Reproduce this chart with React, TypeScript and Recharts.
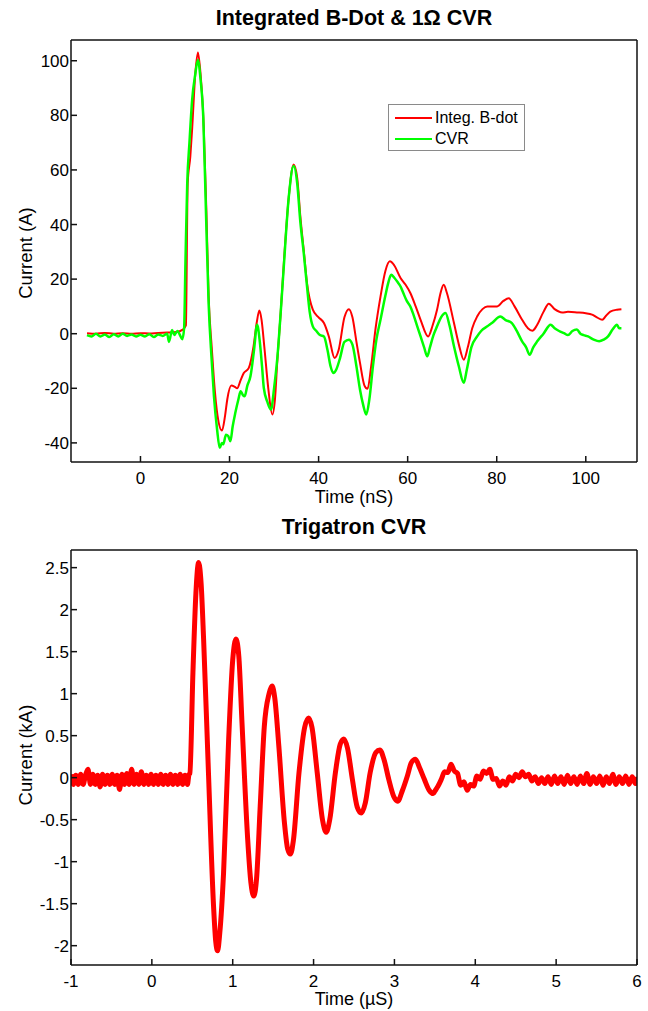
import { Legend, Line, LineChart, XAxis, YAxis } from "recharts";

const FONT = '"Liberation Sans", Arial, Helvetica, sans-serif';
const RED = "#ff0000";
const GREEN = "#00ff00";
const AXIS = "#111111";

// Integrated B-dot probe, [time ns, current A]
const BDOT: [number, number][] = [
  [-12, 0.2], [-10, 0], [-8, 0.3], [-6, 0], [-4, 0.2], [-2, 0], [0, 0.2], [2, 0.1],
  [4, 0.3], [6, 0.4], [8, 0.6], [9.5, 1.5], [10.2, 3], [10.6, 55], [11.2, 65], [11.6, 75],
  [12.3, 95], [12.9, 103], [13.5, 95], [14.2, 76], [14.8, 45], [15.3, 14], [16, -5],
  [16.5, -17], [17.3, -30], [18.3, -35.5], [19, -30], [19.5, -24], [20.4, -19], [21.2, -19.5],
  [21.7, -20], [22.5, -17], [23.2, -14.4], [24.3, -12.6], [25.4, -4.6], [26.1, 4], [26.7, 8.5],
  [27.2, 5], [27.8, -4.6], [28.7, -20], [29.6, -29.6], [30.2, -24], [30.7, -10.7], [31.5, 8],
  [32.2, 26], [33.3, 50], [34.4, 62], [35.2, 57], [35.9, 43], [36.7, 30], [37.4, 18.5],
  [38.7, 8.8], [40, 6], [41.2, 3.9], [42.3, -1], [43.6, -8.9], [44.5, -6], [45.8, 6],
  [46.8, 9], [47.6, 6], [48.5, -3], [49.3, -10.7], [50.3, -19], [51, -20.2], [51.8, -12],
  [52.8, 2], [53.9, 13.6], [55, 23], [56, 26.5], [57, 25], [58.4, 20.4], [59.5, 18],
  [60.6, 14.9], [61.8, 10], [62.9, 5.1], [64.6, -1], [65.6, 3], [66.6, 8.8], [67.4, 15],
  [68.1, 17.9], [68.8, 15], [70.4, 3.9], [71.5, -4], [72.6, -9.5], [73.5, -5], [74.5, 2],
  [75.6, 6.3], [76.8, 9], [77.9, 10], [80.1, 10], [81.5, 12], [82.7, 13], [84, 10],
  [85.7, 5.1], [87, 2], [88, 1.1], [89, 3], [90.5, 8], [91.7, 11], [93, 9], [94.7, 7.8],
  [96, 8], [98, 7.8], [100, 7.5], [101.4, 7], [102.5, 6], [103.7, 5.1], [104.5, 6.5],
  [105.5, 8.1], [107, 8.8], [108, 9],
];

// 1 ohm current viewing resistor, [time ns, current A]
const CVR: [number, number][] = [
  [-12, -0.5], [-11, -1], [-10, 0], [-9, -1], [-8, -0.3], [-7, -1.2], [-6, -0.2], [-5, -1],
  [-4, 0], [-3, -0.8], [-2, -0.3], [-1, -1], [0, -0.4], [1, -1], [2, -0.2], [3, -1.2],
  [4, -0.3], [5, -0.8], [6, 0], [6.4, -3], [7.1, 1.4], [7.6, -0.5], [8.3, 1], [9, -1],
  [9.4, -2], [9.8, 2], [10.1, 26], [10.5, 55], [11, 70], [11.6, 85.6], [12.3, 95],
  [12.9, 100.3], [13.5, 93], [14.1, 79.5], [14.7, 45], [15.3, 11.3], [16, -10], [16.5, -22.9],
  [17.2, -35], [17.8, -41.8], [18.3, -40], [18.6, -40.5], [19.2, -37], [19.7, -37.5],
  [20.2, -39.4], [20.7, -34], [21.3, -29], [22, -24], [22.5, -21.1], [23, -22.5], [23.4, -22.9],
  [24, -19], [24.7, -15.6], [25.5, -6], [26.2, 3.3], [26.8, -3], [27.3, -12], [27.7, -19.9],
  [28.5, -25], [29.3, -27.8], [30, -20], [30.7, -9.5], [31.5, 8], [32.2, 25], [33.3, 50],
  [34.4, 61.4], [35.2, 55], [35.9, 41], [36.7, 29], [37.4, 17.3], [38, 8], [38.7, 2.7],
  [39.5, 1], [40.3, -0.5], [41.2, -1], [42, -6], [42.7, -12], [43.3, -14.4], [44, -13],
  [44.8, -9], [45.8, -3], [46.8, -2.2], [47.6, -4], [48.5, -12], [49.3, -20.5], [50, -26],
  [50.7, -29.6], [51.4, -24], [52.2, -12], [53, -2], [53.9, 5.1], [55, 14], [55.7, 19],
  [56.3, 21.6], [57, 20.5], [57.7, 19], [58.4, 17.3], [59, 15], [59.8, 12], [60.6, 10],
  [61.3, 7], [62.1, 3], [62.9, -1], [63.7, -5], [64.4, -8.3], [65, -5], [65.8, -0.5],
  [66.6, 2.7], [67.5, 6], [68.5, 7.6], [69.4, 3], [70.4, -4.6], [71.5, -12], [72.6, -18],
  [73.3, -13], [74.3, -5], [75.6, -1], [76.5, 1], [77.9, 2.7], [79, 4], [80.8, 6.3], [82, 5],
  [83.4, 3.9], [84.5, 1], [85.7, -2.8], [86.6, -5], [87.4, -7.7], [88.2, -5], [89.1, -2.8],
  [90.5, 0], [92.1, 3.3], [93, 2], [94, 1], [95.1, 0.2], [96, -0.5], [97, 1], [98, 1.5],
  [98.8, 0], [99.5, -0.5], [100.5, -1], [101.8, -2.2], [103, -2.8], [104, -2.2], [105, -1],
  [106, 1.5], [107, 3.3], [107.5, 2], [108, 2],
];

// Trigatron CVR, [time us, current kA]
const TRIG: [number, number][] = [
  [-1, 0.04], [-0.97, -0.08], [-0.94, 0.03], [-0.91, -0.08], [-0.88, 0.04], [-0.85, -0.08],
  [-0.82, 0.03], [-0.79, 0.1], [-0.76, -0.08], [-0.73, 0.04], [-0.7, -0.08], [-0.67, 0.03],
  [-0.64, -0.11], [-0.61, 0.04], [-0.58, -0.08], [-0.55, 0.03], [-0.52, -0.08], [-0.49, 0.04],
  [-0.46, -0.08], [-0.43, 0.03], [-0.4, -0.14], [-0.37, 0.04], [-0.34, -0.08], [-0.31, 0.05],
  [-0.28, -0.08], [-0.25, 0.1], [-0.22, -0.08], [-0.19, 0.04], [-0.16, -0.08], [-0.13, 0.07],
  [-0.1, -0.08], [-0.07, 0.03], [-0.04, -0.08], [-0.01, 0.04], [0.02, -0.08], [0.05, 0.03],
  [0.08, -0.08], [0.11, 0.04], [0.14, -0.08], [0.17, 0.03], [0.2, -0.08], [0.23, 0.04],
  [0.26, -0.08], [0.29, 0.03], [0.32, -0.08], [0.35, 0.04], [0.38, -0.08], [0.41, 0.03],
  [0.44, -0.08], [0.46, 0.04], [0.47, 0.05], [0.508, 1.25], [0.545, 2.2], [0.578, 2.56],
  [0.61, 2.3], [0.64, 1.65], [0.7, 0.06], [0.763, -1.53], [0.79, -1.95], [0.813, -2.06],
  [0.84, -1.85], [0.887, -1.13], [0.95, 0.46], [1.0, 1.4], [1.04, 1.65], [1.075, 1.45],
  [1.115, 0.65], [1.185, -0.73], [1.225, -1.25], [1.26, -1.41], [1.295, -1.2], [1.34, -0.34],
  [1.39, 0.6], [1.45, 1.0], [1.487, 1.09], [1.52, 0.95], [1.57, 0.38], [1.64, -0.54],
  [1.68, -0.85], [1.714, -0.91], [1.75, -0.75], [1.82, 0.06], [1.89, 0.6], [1.94, 0.71],
  [1.98, 0.6], [2.045, 0.06], [2.11, -0.5], [2.156, -0.65], [2.2, -0.5], [2.27, 0.06],
  [2.33, 0.4], [2.375, 0.46], [2.42, 0.35], [2.48, -0.02], [2.54, -0.35], [2.59, -0.42],
  [2.64, -0.3], [2.7, 0.06], [2.77, 0.3], [2.82, 0.33], [2.87, 0.22], [2.93, -0.02],
  [2.99, -0.22], [3.04, -0.28], [3.1, -0.15], [3.16, 0.02], [3.21, 0.18], [3.26, 0.22],
  [3.31, 0.12], [3.37, -0.02], [3.43, -0.15], [3.48, -0.19], [3.5, -0.16], [3.54, -0.1],
  [3.58, -0.02], [3.62, 0.07], [3.66, 0.06], [3.7, 0.16], [3.74, 0.08], [3.78, 0.05],
  [3.82, -0.09], [3.86, -0.05], [3.9, -0.15], [3.94, -0.08], [3.98, -0.1], [4.02, 0.02],
  [4.06, -0.02], [4.1, 0.08], [4.14, 0.05], [4.18, 0.1], [4.22, -0.02], [4.26, -0.01],
  [4.3, -0.1], [4.34, -0.04], [4.38, -0.09], [4.42, 0.01], [4.46, -0.04], [4.5, 0.04],
  [4.54, 0], [4.58, 0.07], [4.62, 0.01], [4.66, 0.04], [4.7, -0.04], [4.74, 0.01],
  [4.78, -0.07], [4.82, 0], [4.86, -0.07], [4.9, 0.01], [4.94, -0.08], [4.98, 0.02],
  [5.02, -0.07], [5.06, 0.01], [5.1, -0.08], [5.14, 0.03], [5.18, -0.07], [5.22, 0.01],
  [5.26, -0.08], [5.3, 0.02], [5.34, -0.07], [5.38, 0.05], [5.42, -0.08], [5.46, 0.01],
  [5.5, -0.07], [5.54, 0.02], [5.58, -0.09], [5.62, 0.01], [5.66, -0.07], [5.7, 0.04],
  [5.74, -0.08], [5.78, 0.01], [5.82, -0.07], [5.86, 0.02], [5.9, -0.08], [5.94, 0.01],
  [5.98, -0.07], [6, 0.01],
];

const TOP_X_TICKS = [0, 20, 40, 60, 80, 100];
const TOP_Y_TICKS = [-40, -20, 0, 20, 40, 60, 80, 100];
const BOT_X_TICKS = [-1, 0, 1, 2, 3, 4, 5, 6];
const BOT_Y_TICKS = [-2, -1.5, -1, -0.5, 0, 0.5, 1, 1.5, 2, 2.5];
const LEGEND_ORDER = ["Integ. B-dot", "CVR"];

const toRows = (pts: [number, number][]) => pts.map(([t, v]) => ({ t, v }));

const tickFont = { fontSize: 17, fill: "#000", fontFamily: FONT };
const axisLine = { stroke: AXIS, strokeWidth: 1.5 };
const tickLine = { stroke: AXIS, strokeWidth: 1.5 };

function LegendBox(props: any) {
  const items = [...(props.payload ?? [])]
    .filter((it: any) => LEGEND_ORDER.includes(it.value))
    .sort((a: any, b: any) => LEGEND_ORDER.indexOf(a.value) - LEGEND_ORDER.indexOf(b.value));
  return (
    <div
      style={{
        width: 137,
        height: 47,
        border: "1px solid #8a8a8a",
        background: "#fff",
        fontFamily: FONT,
        fontSize: 16,
        boxSizing: "border-box",
        paddingTop: 2,
      }}
    >
      {items.map((it: any) => (
        <div key={it.value} style={{ display: "flex", alignItems: "center", height: 21 }}>
          <span style={{ width: 37, height: 2, background: it.color, marginLeft: 6, marginRight: 3 }} />
          <span style={{ lineHeight: "21px" }}>{it.value}</span>
        </div>
      ))}
    </div>
  );
}

function yLabel(text: string, x: number, y: number) {
  return () => (
    <text
      x={x}
      y={y}
      transform={`rotate(-90 ${x} ${y})`}
      textAnchor="middle"
      dominantBaseline="central"
      fontFamily={FONT}
      fontSize={18.5}
      fill="#000"
    >
      {text}
    </text>
  );
}

function xLabel(text: string, x: number, y: number) {
  return () => (
    <text x={x} y={y} textAnchor="middle" dominantBaseline="central" fontFamily={FONT} fontSize={18} fill="#000">
      {text}
    </text>
  );
}

function Title({ text, top }: { text: string; top: number }) {
  return (
    <div
      style={{
        position: "absolute",
        left: 71,
        width: 566,
        top,
        height: 24,
        lineHeight: "24px",
        textAlign: "center",
        fontFamily: FONT,
        fontWeight: "bold",
        fontSize: 21.5,
        color: "#000",
      }}
    >
      {text}
    </div>
  );
}

export default function App() {
  const bdot = toRows(BDOT);
  const cvr = toRows(CVR);
  const trig = toRows(TRIG);

  return (
    <div style={{ position: "absolute", left: 0, top: 0, width: 648, height: 1011, background: "#fff" }}>
      <Title text="Integrated B-Dot & 1Ω CVR" top={6} />
      <div style={{ position: "absolute", left: 0, top: 0 }}>
        <LineChart width={648} height={512} margin={{ top: 39, right: 10, bottom: 10, left: 21 }}>
          <XAxis
            dataKey="t"
            type="number"
            domain={[-15.6, 111.5]}
            ticks={TOP_X_TICKS}
            allowDataOverflow
            height={40}
            tick={tickFont}
            tickSize={-6}
            tickMargin={16}
            axisLine={axisLine}
            tickLine={tickLine}
            label={{ content: xLabel("Time (nS)", 354, 497) }}
          />
          <XAxis
            xAxisId="top"
            dataKey="t"
            orientation="top"
            type="number"
            domain={[-15.6, 111.5]}
            ticks={TOP_X_TICKS}
            allowDataOverflow
            height={1}
            tick={false}
            tickSize={-6}
            axisLine={axisLine}
            tickLine={tickLine}
          />
          <YAxis
            type="number"
            domain={[-47, 107.6]}
            ticks={TOP_Y_TICKS}
            allowDataOverflow
            width={50}
            tick={tickFont}
            tickSize={-6}
            tickMargin={8}
            axisLine={axisLine}
            tickLine={tickLine}
            label={{ content: yLabel("Current (A)", 25, 253) }}
          />
          <YAxis
            yAxisId="right"
            orientation="right"
            type="number"
            domain={[-47, 107.6]}
            ticks={TOP_Y_TICKS}
            allowDataOverflow
            width={1}
            tick={false}
            tickSize={-6}
            axisLine={axisLine}
            tickLine={tickLine}
          />
          {/* invisible series so the top/right frame axes get drawn */}
          <Line
            data={bdot}
            xAxisId="top"
            yAxisId="right"
            dataKey="v"
            name="frame"
            stroke="none"
            legendType="none"
            dot={false}
            activeDot={false}
            isAnimationActive={false}
          />
          <Line
            data={bdot}
            dataKey="v"
            name="Integ. B-dot"
            stroke={RED}
            strokeWidth={2}
            dot={false}
            type="monotone"
            isAnimationActive={false}
          />
          <Line
            data={cvr}
            dataKey="v"
            name="CVR"
            stroke={GREEN}
            strokeWidth={2.5}
            dot={false}
            type="monotone"
            isAnimationActive={false}
          />
          <Legend
            layout="vertical"
            align="center"
            verticalAlign="middle"
            content={LegendBox}
            wrapperStyle={{ left: 388, top: 104, width: 137, height: 47 }}
          />
        </LineChart>
      </div>

      <Title text="Trigatron CVR" top={515} />
      <div style={{ position: "absolute", left: 0, top: 505 }}>
        <LineChart width={648} height={506} margin={{ top: 44, right: 10, bottom: 6, left: 21 }}>
          <XAxis
            dataKey="t"
            type="number"
            domain={[-1, 6]}
            ticks={BOT_X_TICKS}
            allowDataOverflow
            height={40}
            tick={tickFont}
            tickSize={-6}
            tickMargin={16}
            axisLine={axisLine}
            tickLine={tickLine}
            label={{ content: xLabel("Time (µS)", 354, 494) }}
          />
          <XAxis
            xAxisId="top"
            dataKey="t"
            orientation="top"
            type="number"
            domain={[-1, 6]}
            ticks={BOT_X_TICKS}
            allowDataOverflow
            height={1}
            tick={false}
            tickSize={-6}
            axisLine={axisLine}
            tickLine={tickLine}
          />
          <YAxis
            type="number"
            domain={[-2.23, 2.71]}
            ticks={BOT_Y_TICKS}
            allowDataOverflow
            width={50}
            tick={tickFont}
            tickSize={-6}
            tickMargin={8}
            axisLine={axisLine}
            tickLine={tickLine}
            label={{ content: yLabel("Current (kA)", 25, 250) }}
          />
          <YAxis
            yAxisId="right"
            orientation="right"
            type="number"
            domain={[-2.23, 2.71]}
            ticks={BOT_Y_TICKS}
            allowDataOverflow
            width={1}
            tick={false}
            tickSize={-6}
            axisLine={axisLine}
            tickLine={tickLine}
          />
          <Line
            data={trig}
            xAxisId="top"
            yAxisId="right"
            dataKey="v"
            stroke="none"
            legendType="none"
            dot={false}
            activeDot={false}
            isAnimationActive={false}
          />
          <Line
            data={trig}
            dataKey="v"
            stroke={RED}
            strokeWidth={5}
            strokeLinejoin="round"
            dot={false}
            type="monotone"
            isAnimationActive={false}
          />
        </LineChart>
      </div>
    </div>
  );
}
